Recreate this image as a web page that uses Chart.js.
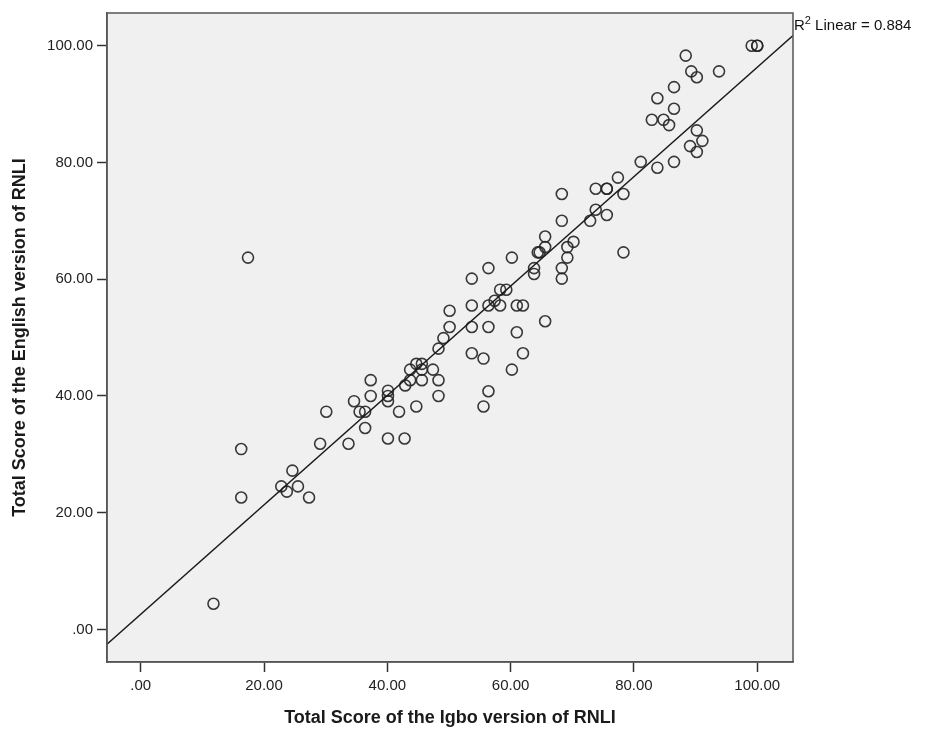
<!DOCTYPE html>
<html>
<head>
<meta charset="utf-8">
<script src="https://cdn.jsdelivr.net/npm/chart.js@4"></script>
<style>
  html, body { margin: 0; padding: 0; background: #fff; }
  #wrap { width: 925px; height: 733px; }
</style>
</head>
<body>
<div id="wrap"><canvas id="chart" width="925" height="733"></canvas></div>
<script>
// Igbo version score (x) against English version score (y)
const igboScores = [
  11.8, 16.3, 16.3, 17.4, 22.8, 23.7, 24.6, 25.5, 27.3, 29.1,
  33.7, 30.1, 34.6, 35.5, 36.4, 36.4, 37.3, 37.3, 40.1, 40.1,
  40.1, 40.1, 41.9, 42.8, 42.9, 43.7, 43.7, 44.7, 45.6, 45.6,
  44.7, 45.6, 47.4, 48.3, 48.3, 48.3, 49.1, 50.1, 50.1, 53.7,
  55.6, 55.6, 56.4, 53.7, 56.4, 53.7, 56.4, 57.4, 58.3, 58.3,
  59.3, 53.7, 56.4, 60.2, 61.0, 62.0, 61.0, 62.0, 60.2, 65.6,
  63.8, 63.8, 64.4, 64.7, 65.6, 65.6, 68.3, 68.3, 69.2, 69.2,
  70.2, 68.3, 68.3, 72.9, 73.8, 75.6, 73.8, 75.6, 75.6, 77.4,
  78.3, 78.3, 81.1, 83.8, 86.5, 89.1, 90.2, 90.2, 91.1, 82.9,
  84.8, 85.7, 86.5, 83.8, 86.5, 88.4, 89.3, 90.2, 93.8, 99.1,
  100.0, 100.0
];
const englishScores = [
  4.4, 30.9, 22.6, 63.7, 24.5, 23.6, 27.2, 24.5, 22.6, 31.8,
  31.8, 37.3, 39.1, 37.3, 37.3, 34.5, 42.7, 40.0, 40.9, 40.0,
  39.1, 32.7, 37.3, 32.7, 41.8, 42.7, 44.5, 45.5, 45.5, 44.5,
  38.2, 42.7, 44.5, 42.7, 40.0, 48.1, 49.9, 51.8, 54.6, 47.3,
  46.4, 38.2, 40.8, 51.8, 51.8, 55.5, 55.5, 56.3, 55.5, 58.2,
  58.2, 60.1, 61.9, 63.7, 55.5, 55.5, 50.9, 47.3, 44.5, 52.8,
  61.9, 60.9, 64.6, 64.6, 65.5, 67.3, 61.9, 60.1, 63.7, 65.5,
  66.4, 70.0, 74.6, 70.0, 71.9, 71.0, 75.5, 75.5, 75.5, 77.4,
  74.6, 64.6, 80.1, 79.1, 80.1, 82.8, 81.8, 85.5, 83.7, 87.3,
  87.3, 86.4, 89.2, 91.0, 92.9, 98.3, 95.6, 94.6, 95.6, 100.0,
  100.0, 100.0
];
const tickValues = [0, 20, 40, 60, 80, 100];
const xRange = [-5.47, 105.8];
const yRange = [-5.58, 105.6];
const rSquaredLabel = '0.884';

function fitLine(xs, ys) {
  const n = xs.length;
  const mx = xs.reduce((a, b) => a + b, 0) / n;
  const my = ys.reduce((a, b) => a + b, 0) / n;
  let sxy = 0;
  let sxx = 0;
  for (let i = 0; i < n; i += 1) {
    sxy += (xs[i] - mx) * (ys[i] - my);
    sxx += (xs[i] - mx) * (xs[i] - mx);
  }
  const slope = sxy / sxx;
  return { slope, intercept: my - slope * mx };
}

function formatTick(value) {
  return value === 0 ? '.00' : value.toFixed(2);
}

const fit = fitLine(igboScores, englishScores);
const points = igboScores.map((x, i) => ({ x, y: englishScores[i] }));
const linePoints = xRange.map((x) => ({ x, y: fit.intercept + fit.slope * x }));

const plotFrame = {
  id: 'plotFrame',
  beforeDraw(chart) {
    const { ctx, chartArea: a } = chart;
    ctx.save();
    ctx.fillStyle = '#f0f0f0';
    ctx.fillRect(a.left, a.top, a.right - a.left, a.bottom - a.top);
    ctx.restore();
  },
  afterDraw(chart) {
    const { ctx, chartArea: a } = chart;
    ctx.save();
    ctx.strokeStyle = '#555';
    ctx.lineWidth = 1.5;
    ctx.strokeRect(a.left, a.top, a.right - a.left, a.bottom - a.top);

    // R² label beside the top right corner
    const x0 = a.right + 1;
    const base = a.top + 17;
    ctx.fillStyle = '#111';
    ctx.textBaseline = 'alphabetic';
    ctx.font = '15px "Liberation Sans", Arial, sans-serif';
    ctx.fillText('R', x0, base);
    let x = x0 + ctx.measureText('R').width;
    ctx.font = '11px "Liberation Sans", Arial, sans-serif';
    ctx.fillText('2', x, base - 6);
    x += ctx.measureText('2').width;
    ctx.font = '15px "Liberation Sans", Arial, sans-serif';
    ctx.fillText(' Linear = ' + rSquaredLabel, x, base);
    ctx.restore();
  }
};

const tickFont = { family: '"Liberation Sans", Arial, sans-serif', size: 15 };
const titleFont = { family: '"Liberation Sans", Arial, sans-serif', size: 18, weight: 'bold' };

new Chart(document.getElementById('chart'), {
  type: 'scatter',
  data: {
    datasets: [
      {
        label: 'Scores',
        data: points,
        pointStyle: 'circle',
        pointRadius: 5.5,
        pointBorderWidth: 1.6,
        borderColor: 'rgba(35, 35, 35, 0.9)',
        backgroundColor: 'rgba(0, 0, 0, 0)',
        order: 2
      },
      {
        type: 'line',
        label: 'Linear fit',
        data: linePoints,
        borderColor: '#1a1a1a',
        borderWidth: 1.4,
        pointRadius: 0,
        fill: false,
        tension: 0,
        order: 1
      }
    ]
  },
  options: {
    responsive: false,
    animation: false,
    events: [],
    layout: { padding: { top: 10, right: 132, left: 0, bottom: 0 } },
    plugins: {
      legend: { display: false },
      tooltip: { enabled: false }
    },
    scales: {
      x: {
        type: 'linear',
        min: xRange[0],
        max: xRange[1],
        afterBuildTicks(scale) {
          scale.ticks = tickValues.map((value) => ({ value }));
        },
        afterFit(scale) {
          scale.height = 71;
        },
        ticks: {
          color: '#222',
          font: tickFont,
          padding: 5,
          maxRotation: 0,
          autoSkip: false,
          callback: (value) => formatTick(value)
        },
        grid: {
          drawOnChartArea: false,
          tickLength: 10,
          tickWidth: 1.5,
          tickColor: '#333'
        },
        border: { color: '#555', width: 1.5 },
        title: {
          display: true,
          text: 'Total Score of the Igbo version of RNLI',
          color: '#1a1a1a',
          font: titleFont,
          padding: { top: 0, bottom: 4 }
        }
      },
      y: {
        type: 'linear',
        min: yRange[0],
        max: yRange[1],
        afterBuildTicks(scale) {
          scale.ticks = tickValues.map((value) => ({ value }));
        },
        afterFit(scale) {
          scale.width = 107;
        },
        ticks: {
          color: '#222',
          font: tickFont,
          padding: 4,
          autoSkip: false,
          callback: (value) => formatTick(value)
        },
        grid: {
          drawOnChartArea: false,
          tickLength: 10,
          tickWidth: 1.5,
          tickColor: '#333'
        },
        border: { color: '#555', width: 1.5 },
        title: {
          display: true,
          text: 'Total Score of the English version of RNLI',
          color: '#1a1a1a',
          font: titleFont,
          padding: { top: 9, bottom: 0 }
        }
      }
    }
  },
  plugins: [plotFrame]
});
</script>
</body>
</html>
